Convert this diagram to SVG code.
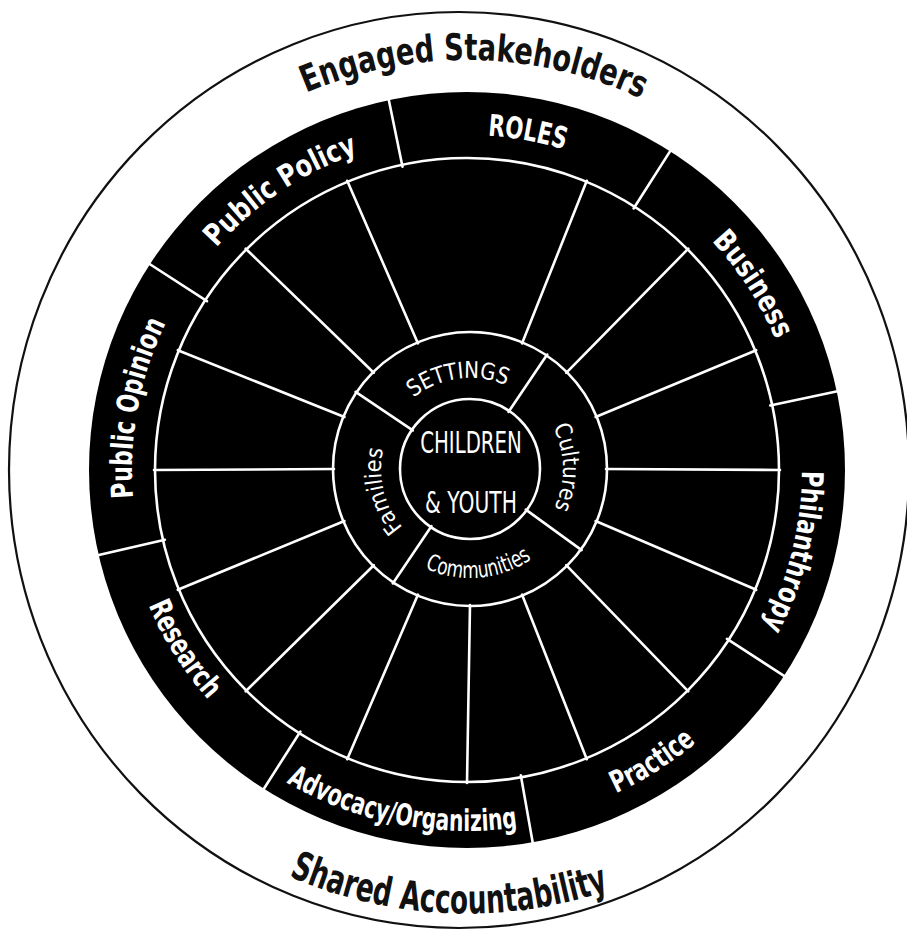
<svg xmlns="http://www.w3.org/2000/svg" width="907" height="934" viewBox="0 0 907 934">
<style>
.lab{font-family:"Liberation Sans Narrow","DejaVu Sans Condensed","Liberation Sans",sans-serif;font-weight:700;fill:#fff;font-size:30px}
.big{font-family:"Liberation Sans Narrow","DejaVu Sans Condensed","Liberation Sans",sans-serif;font-weight:700;fill:#111;}
.in{font-family:"Liberation Sans Narrow","DejaVu Sans Condensed","Liberation Sans",sans-serif;font-weight:400;fill:#fff;font-size:23px}
.ctr{font-family:"Liberation Sans Narrow","DejaVu Sans Condensed","Liberation Sans",sans-serif;font-weight:400;fill:#fff;font-size:30px}
.w{stroke:#fff;stroke-width:2.6;fill:none;stroke-linecap:round}
</style>
<defs>
<path id="pRoles" d="M300.5,179.3 A335,335 0 0 1 724.4,255.6"/>
<path id="pPolicy" d="M145.5,376 A335,335 0 0 1 503.8,137"/>
<path id="pBusiness" d="M564.9,149.6 A335,335 0 0 1 799.5,510.8"/>
<path id="pPhil" d="M768.1,323.1 A335,335 0 0 1 663.9,741"/>
<path id="pOpinion" d="M175.1,634.5 A335,335 0 0 1 254.4,211.1"/>
<path id="pResearch" d="M124.1,423.6 A346,346 0 0 0 361.8,799.6"/>
<path id="pAdvocacy" d="M186.5,697.2 A361,361 0 0 0 642,785.7"/>
<path id="pPractice" d="M419.9,822.9 A356,356 0 0 0 806.3,577.6"/>
<path id="pEngaged" d="M152.9,206.5 A410,410 0 0 1 790.1,217.6"/>
<path id="pShared" d="M117.1,743.4 A445,445 0 0 0 791.7,772.8"/>
<path id="pSettings" d="M385.9,434.2 A91,91 0 0 1 542.2,413.6"/>
<path id="pCultures" d="M515.1,387.7 A93,93 0 0 1 517.9,548.7"/>
<path id="pFamilies" d="M445.5,554.6 A89,89 0 0 1 408.2,405"/>
<path id="pCommunities" d="M380.7,531.5 A109,109 0 0 0 568.8,515.1"/>
</defs>
<rect width="907" height="934" fill="#fff"/>
<g id="outer-circle">
<ellipse cx="459" cy="470" rx="450" ry="458" fill="none" stroke="#111" stroke-width="2.2"/>
</g>
<g id="wheel">
<circle cx="467" cy="470" r="378" fill="#000"/>
<circle class="w" cx="467" cy="470" r="312"/>
<circle class="w" cx="470" cy="469" r="137"/>
<circle class="w" cx="470" cy="469" r="70"/>
</g>
<g id="connectors">
<g id="outer-dividers">
<line class="w" x1="402.5" y1="166.8" x2="388" y2="96"/>
<line class="w" x1="633.6" y1="208.5" x2="672.4" y2="147.6"/>
<line class="w" x1="770.2" y1="405.5" x2="841" y2="390.5"/>
<line class="w" x1="727" y1="638.8" x2="787.5" y2="678.2"/>
<line class="w" x1="520.8" y1="775.3" x2="533.4" y2="846.5"/>
<line class="w" x1="300.4" y1="731.5" x2="261.5" y2="792.5"/>
<line class="w" x1="164.9" y1="539.7" x2="94.5" y2="556"/>
<line class="w" x1="207" y1="301.2" x2="146.5" y2="262"/>
</g>
<g id="spokes">
<line class="w" x1="522" y1="343.4" x2="586.8" y2="180.8"/>
<line class="w" x1="566.2" y1="372.8" x2="688.3" y2="248.7"/>
<line class="w" x1="595.6" y1="417" x2="756.2" y2="350.2"/>
<line class="w" x1="606" y1="469" x2="780" y2="470"/>
<line class="w" x1="595.6" y1="521" x2="756.2" y2="589.8"/>
<line class="w" x1="566.2" y1="565.2" x2="688.3" y2="691.3"/>
<line class="w" x1="522" y1="594.6" x2="586.8" y2="759.2"/>
<line class="w" x1="470" y1="605" x2="467" y2="783"/>
<line class="w" x1="418" y1="594.6" x2="347.2" y2="759.2"/>
<line class="w" x1="373.8" y1="565.2" x2="245.7" y2="691.3"/>
<line class="w" x1="344.4" y1="521" x2="177.8" y2="589.8"/>
<line class="w" x1="334" y1="469" x2="154" y2="470"/>
<line class="w" x1="344.4" y1="417" x2="177.8" y2="350.2"/>
<line class="w" x1="373.8" y1="372.8" x2="245.7" y2="248.7"/>
<line class="w" x1="418" y1="343.4" x2="347.2" y2="180.8"/>
</g>
<g id="inner-dividers">
<line class="w" x1="508.6" y1="411.8" x2="547.2" y2="354.6"/>
<line class="w" x1="525.8" y1="509.6" x2="581.6" y2="550.1"/>
<line class="w" x1="431.4" y1="526.2" x2="392.8" y2="583.4"/>
<line class="w" x1="412.8" y1="430.4" x2="355.6" y2="391.8"/>
</g>
</g>
<g id="band-labels">
<text class="big" font-size="37"><textPath href="#pEngaged" startOffset="50%" text-anchor="middle" textLength="345" lengthAdjust="spacingAndGlyphs">Engaged Stakeholders</textPath></text>
<text class="big" font-size="40"><textPath href="#pShared" startOffset="50%" text-anchor="middle" textLength="328" lengthAdjust="spacingAndGlyphs">Shared Accountability</textPath></text>
</g>
<g id="roles">
<g id="role-roles"><text class="lab"><textPath href="#pRoles" startOffset="50%" text-anchor="middle" textLength="78" lengthAdjust="spacingAndGlyphs">ROLES</textPath></text></g>
<g id="role-business"><text class="lab"><textPath href="#pBusiness" startOffset="50%" text-anchor="middle" textLength="118" lengthAdjust="spacingAndGlyphs">Business</textPath></text></g>
<g id="role-philanthropy"><text class="lab"><textPath href="#pPhil" startOffset="50%" text-anchor="middle" textLength="162" lengthAdjust="spacingAndGlyphs">Philanthropy</textPath></text></g>
<g id="role-practice"><text class="lab"><textPath href="#pPractice" startOffset="50%" text-anchor="middle" textLength="95" lengthAdjust="spacingAndGlyphs">Practice</textPath></text></g>
<g id="role-advocacy"><text class="lab"><textPath href="#pAdvocacy" startOffset="50%" text-anchor="middle" textLength="240" lengthAdjust="spacingAndGlyphs">Advocacy/Organizing</textPath></text></g>
<g id="role-research"><text class="lab"><textPath href="#pResearch" startOffset="50%" text-anchor="middle" textLength="112" lengthAdjust="spacingAndGlyphs">Research</textPath></text></g>
<g id="role-opinion"><text class="lab"><textPath href="#pOpinion" startOffset="50%" text-anchor="middle" textLength="180" lengthAdjust="spacingAndGlyphs">Public Opinion</textPath></text></g>
<g id="role-policy"><text class="lab"><textPath href="#pPolicy" startOffset="50%" text-anchor="middle" textLength="172" lengthAdjust="spacingAndGlyphs">Public Policy</textPath></text></g>
</g>
<g id="settings">
<g id="set-settings"><text class="in"><textPath href="#pSettings" startOffset="50%" text-anchor="middle" textLength="98" lengthAdjust="spacingAndGlyphs">SETTINGS</textPath></text></g>
<g id="set-cultures"><text class="in"><textPath href="#pCultures" startOffset="50%" text-anchor="middle" textLength="84" lengthAdjust="spacingAndGlyphs">Cultures</textPath></text></g>
<g id="set-communities"><text class="in" font-size="21"><textPath href="#pCommunities" startOffset="50%" text-anchor="middle" textLength="112" lengthAdjust="spacingAndGlyphs">Communities</textPath></text></g>
<g id="set-families"><text class="in"><textPath href="#pFamilies" startOffset="50%" text-anchor="middle" textLength="84" lengthAdjust="spacingAndGlyphs">Families</textPath></text></g>
</g>
<g id="center">
<text class="ctr" transform="translate(471,453) scale(0.66,1)" text-anchor="middle" textLength="154" lengthAdjust="spacingAndGlyphs">CHILDREN</text>
<text class="ctr" transform="translate(471,513) scale(0.67,1)" text-anchor="middle" textLength="137" lengthAdjust="spacingAndGlyphs">&amp; YOUTH</text>
</g>
</svg>
